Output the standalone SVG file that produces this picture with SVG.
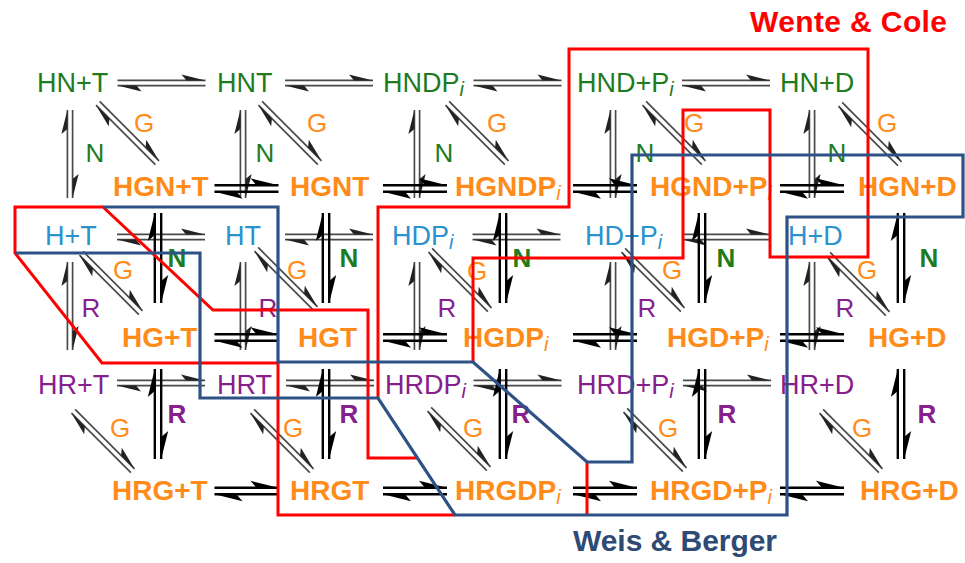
<svg xmlns="http://www.w3.org/2000/svg" xmlns:xlink="http://www.w3.org/1999/xlink" width="965" height="563" viewBox="0 0 965 563">
<style>
.t{font-family:"Liberation Sans",Arial,sans-serif}
.bk{font-size:27px}
.fr{font-size:28px;font-weight:bold;fill:#FF8C1A}
.gr{fill:#1E7B1E}.bl{fill:#2A92CF}.pu{fill:#86208C}.or{fill:#FF8C1A}
.lab{font-family:"Liberation Sans",Arial,sans-serif;font-size:26px;text-anchor:middle}
.lb{font-weight:bold}
.sub{font-style:italic;font-size:20px;font-weight:normal}
.ab line{stroke:#4a4a4a;stroke-width:1.7;marker-end:url(#mb)}
.af line{stroke:#000;stroke-width:2.4;marker-end:url(#mf)}
.red{fill:none;stroke:#FF0000;stroke-width:3}
.blue{fill:none;stroke:#2E5286;stroke-width:3.2}
.title{font-family:"Liberation Sans",Arial,sans-serif;font-size:30px;font-weight:bold}
</style>
<defs>
<marker id="mb" markerUnits="userSpaceOnUse" orient="auto" viewBox="-26 -10 30 20" markerWidth="30" markerHeight="20" refX="0" refY="0">
<path d="M0,0 L-24,-6 L-19,0 Z" fill="#222"/>
</marker>
<marker id="mf" markerUnits="userSpaceOnUse" orient="auto" viewBox="-30 -10 34 20" markerWidth="34" markerHeight="20" refX="0" refY="0">
<path d="M0,0 L-28,-7 L-22,0 Z" fill="#000"/>
</marker>
<g id="eb" class="ab"><line x1="-44" y1="-2.6" x2="44" y2="-2.6"/><line x1="44" y1="2.6" x2="-44" y2="2.6"/></g>
<g id="ed" class="ab"><line x1="-42" y1="-2.6" x2="42" y2="-2.6"/><line x1="42" y1="2.6" x2="-42" y2="2.6"/></g>
<g id="ef" class="af"><line x1="-32" y1="-3.2" x2="32" y2="-3.2"/><line x1="32" y1="3.2" x2="-32" y2="3.2"/></g>
<g id="ev" class="af"><line x1="-45" y1="-3.2" x2="45" y2="-3.2"/><line x1="45" y1="3.2" x2="-45" y2="3.2"/></g>
</defs>
<rect width="965" height="563" fill="#fff"/>
<g id="connectors">
<!-- back horizontal -->
<use xlink:href="#eb" transform="translate(161.5,83)"/>
<use xlink:href="#eb" transform="translate(329,83)"/>
<use xlink:href="#eb" transform="translate(517.5,83)"/>
<use xlink:href="#eb" transform="translate(726,83)"/>
<use xlink:href="#eb" transform="translate(161,237)"/>
<use xlink:href="#eb" transform="translate(329,237)"/>
<use xlink:href="#eb" transform="translate(516.5,237)"/>
<use xlink:href="#eb" transform="translate(726,237)"/>
<use xlink:href="#eb" transform="translate(161,383)"/>
<use xlink:href="#eb" transform="translate(330,383)"/>
<use xlink:href="#eb" transform="translate(517.5,383)"/>
<use xlink:href="#eb" transform="translate(727,383)"/>
<!-- back vertical -->
<use xlink:href="#eb" transform="translate(70,154) rotate(90)"/>
<use xlink:href="#eb" transform="translate(243,154) rotate(90)"/>
<use xlink:href="#eb" transform="translate(417,154) rotate(90)"/>
<use xlink:href="#eb" transform="translate(613,154) rotate(90)"/>
<use xlink:href="#eb" transform="translate(812,154) rotate(90)"/>
<use xlink:href="#eb" transform="translate(70,306) rotate(90)"/>
<use xlink:href="#eb" transform="translate(243,306) rotate(90)"/>
<use xlink:href="#eb" transform="translate(417,306) rotate(90)"/>
<use xlink:href="#eb" transform="translate(613,306) rotate(90)"/>
<use xlink:href="#eb" transform="translate(812,306) rotate(90)"/>
<!-- diagonals -->
<use xlink:href="#ed" transform="translate(127.5,133) rotate(45)"/>
<use xlink:href="#ed" transform="translate(290,133) rotate(45)"/>
<use xlink:href="#ed" transform="translate(477,133) rotate(45)"/>
<use xlink:href="#ed" transform="translate(674,133) rotate(45)"/>
<use xlink:href="#ed" transform="translate(870,134) rotate(45)"/>
<use xlink:href="#ed" transform="translate(111,283) rotate(45)"/>
<use xlink:href="#ed" transform="translate(286,279) rotate(45)"/>
<use xlink:href="#ed" transform="translate(460,280) rotate(45)"/>
<use xlink:href="#ed" transform="translate(653,280) rotate(45)"/>
<use xlink:href="#ed" transform="translate(858,284) rotate(45)"/>
<use xlink:href="#ed" transform="translate(103,441) rotate(45)"/>
<use xlink:href="#ed" transform="translate(282,441) rotate(45)"/>
<use xlink:href="#ed" transform="translate(459,439) rotate(45)"/>
<use xlink:href="#ed" transform="translate(655,440) rotate(45)"/>
<use xlink:href="#ed" transform="translate(851,441) rotate(45)"/>
<!-- front vertical -->
<use xlink:href="#ev" transform="translate(158,258) rotate(90)"/>
<use xlink:href="#ev" transform="translate(326,258) rotate(90)"/>
<use xlink:href="#ev" transform="translate(503,258) rotate(90)"/>
<use xlink:href="#ev" transform="translate(702,258) rotate(90)"/>
<use xlink:href="#ev" transform="translate(901,258) rotate(90)"/>
<use xlink:href="#ev" transform="translate(158,414) rotate(90)"/>
<use xlink:href="#ev" transform="translate(326,414) rotate(90)"/>
<use xlink:href="#ev" transform="translate(503,414) rotate(90)"/>
<use xlink:href="#ev" transform="translate(702,414) rotate(90)"/>
<use xlink:href="#ev" transform="translate(901,414) rotate(90)"/>
<!-- front horizontal -->
<use xlink:href="#ef" transform="translate(246.5,188.5)"/>
<use xlink:href="#ef" transform="translate(415,188.5)"/>
<use xlink:href="#ef" transform="translate(605,188.5)"/>
<use xlink:href="#ef" transform="translate(812,188.5)"/>
<use xlink:href="#ef" transform="translate(246.5,337.5)"/>
<use xlink:href="#ef" transform="translate(415,337.5)"/>
<use xlink:href="#ef" transform="translate(605,337.5)"/>
<use xlink:href="#ef" transform="translate(812,337.5)"/>
<use xlink:href="#ef" transform="translate(246.5,491)"/>
<use xlink:href="#ef" transform="translate(415,491)"/>
<use xlink:href="#ef" transform="translate(605,491)"/>
<use xlink:href="#ef" transform="translate(812,491)"/>
<!-- labels -->
<g class="lab or">
<text x="144" y="132">G</text><text x="317" y="132">G</text><text x="497" y="132">G</text><text x="694" y="132">G</text><text x="887" y="132">G</text>
<text x="123" y="279">G</text><text x="297" y="279">G</text><text x="477" y="280">G</text><text x="672" y="279">G</text><text x="867" y="279">G</text>
<text x="120" y="437">G</text><text x="293" y="437">G</text><text x="473" y="437">G</text><text x="668" y="437">G</text><text x="862" y="437">G</text>
</g>
<g class="lab gr">
<text x="95" y="162">N</text><text x="265" y="162">N</text><text x="444" y="162">N</text><text x="645" y="162">N</text><text x="837" y="162">N</text>
</g>
<g class="lab pu">
<text x="91" y="317">R</text><text x="268" y="317">R</text><text x="447" y="317">R</text><text x="647" y="317">R</text><text x="845" y="317">R</text>
</g>
<g class="lab lb gr">
<text x="177" y="267">N</text><text x="349" y="267">N</text><text x="522" y="267">N</text><text x="726" y="267">N</text><text x="929" y="267">N</text>
</g>
<g class="lab lb pu">
<text x="177" y="423">R</text><text x="349" y="423">R</text><text x="521" y="423">R</text><text x="727" y="423">R</text><text x="927" y="423">R</text>
</g>
</g>
<!-- nodes: HN row -->
<g id="HN_T"><text class="t bk gr" x="37" y="92">HN+T</text></g>
<g id="HNT"><text class="t bk gr" x="217" y="92">HNT</text></g>
<g id="HNDPi"><text class="t bk gr" x="383" y="92">HNDP<tspan class="sub" dy="4">i</tspan></text></g>
<g id="HND_Pi"><text class="t bk gr" x="577" y="92">HND+P<tspan class="sub" dy="4">i</tspan></text></g>
<g id="HN_D"><text class="t bk gr" x="780" y="92">HN+D</text></g>
<!-- HGN row -->
<g id="HGN_T"><text class="t fr" x="113" y="196">HGN+T</text></g>
<g id="HGNT"><text class="t fr" x="290" y="196">HGNT</text></g>
<g id="HGNDPi"><text class="t fr" x="455" y="196">HGNDP<tspan class="sub" dy="4">i</tspan></text></g>
<g id="HGND_Pi"><text class="t fr" x="650" y="196">HGND+P<tspan class="sub" dy="4">i</tspan></text></g>
<g id="HGN_D"><text class="t fr" x="858" y="196">HGN+D</text></g>
<!-- H row -->
<g id="H_T"><text class="t bk bl" x="45" y="245">H+T</text></g>
<g id="HT"><text class="t bk bl" x="225" y="245">HT</text></g>
<g id="HDPi"><text class="t bk bl" x="392" y="245">HDP<tspan class="sub" dy="4">i</tspan></text></g>
<g id="HD_Pi"><text class="t bk bl" x="585" y="245">HD+P<tspan class="sub" dy="4">i</tspan></text></g>
<g id="H_D"><text class="t bk bl" x="788" y="245">H+D</text></g>
<!-- HG row -->
<g id="HG_T"><text class="t fr" x="122" y="347">HG+T</text></g>
<g id="HGT"><text class="t fr" x="298" y="347">HGT</text></g>
<g id="HGDPi"><text class="t fr" x="463" y="347">HGDP<tspan class="sub" dy="4">i</tspan></text></g>
<g id="HGD_Pi"><text class="t fr" x="667" y="347">HGD+P<tspan class="sub" dy="4">i</tspan></text></g>
<g id="HG_D"><text class="t fr" x="868" y="347">HG+D</text></g>
<!-- HR row -->
<g id="HR_T"><text class="t bk pu" x="38" y="394">HR+T</text></g>
<g id="HRT"><text class="t bk pu" x="217" y="394">HRT</text></g>
<g id="HRDPi"><text class="t bk pu" x="385" y="394">HRDP<tspan class="sub" dy="4">i</tspan></text></g>
<g id="HRD_Pi"><text class="t bk pu" x="577" y="394">HRD+P<tspan class="sub" dy="4">i</tspan></text></g>
<g id="HR_D"><text class="t bk pu" x="780" y="394">HR+D</text></g>
<!-- HRG row -->
<g id="HRG_T"><text class="t fr" x="112" y="500">HRG+T</text></g>
<g id="HRGT"><text class="t fr" x="290" y="500">HRGT</text></g>
<g id="HRGDPi"><text class="t fr" x="455" y="500">HRGDP<tspan class="sub" dy="4">i</tspan></text></g>
<g id="HRGD_Pi"><text class="t fr" x="650" y="500">HRGD+P<tspan class="sub" dy="4">i</tspan></text></g>
<g id="HRG_D"><text class="t fr" x="860" y="500">HRG+D</text></g>
<!-- regions -->
<g id="regions">
<polyline class="red" points="417,458 368,458 368,310 213,310 103,207 15,207 15,253 102,363 278,363 278,515 455,515"/>
<polyline class="red" points="378,398 378,207 569,207 569,49 868,49 868,257 770,257 770,110 683,110 683,258 473,258 473,362"/>
<line class="red" x1="587" y1="462" x2="587" y2="515"/>
<polyline class="blue" points="15,253 200,253 200,398 378,398 455,515 787,515 787,217 963,217 963,155 632,155 632,462 587,462 473,362 278,362 278,207 103,207"/>
</g>
<text class="title" x="750" y="32" fill="#FF0000" textLength="197">Wente &amp; Cole</text>
<text class="title" x="573" y="551" fill="#2E4A75" textLength="204">Weis &amp; Berger</text>
</svg>
